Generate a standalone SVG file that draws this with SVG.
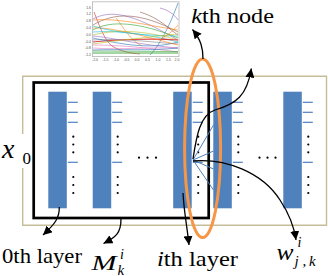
<svg xmlns="http://www.w3.org/2000/svg" width="328" height="276" viewBox="0 0 328 276">
<defs>
<marker id="ah" markerUnits="userSpaceOnUse" markerWidth="10" markerHeight="9" refX="9" refY="4.5" orient="auto">
<path d="M0,0 L9,4.5 L0,9 z" fill="#000"/>
</marker>
<g id="col">
<rect fill="#4F81BD" x="0" y="91.7" width="18.5" height="116.6"/>
<g stroke="#4F81BD" stroke-width="1.2">
<line x1="19.5" y1="102.3" x2="29.5" y2="102.3"/>
<line x1="19.5" y1="112.3" x2="29.5" y2="112.3"/>
<line x1="19.5" y1="122.3" x2="29.5" y2="122.3"/>
<line x1="19.5" y1="162.3" x2="29.5" y2="162.3"/>
</g>
<g fill="#000">
<circle cx="25" cy="136.7" r="1.1"/>
<circle cx="25" cy="144.5" r="1.1"/>
<circle cx="25" cy="152.3" r="1.1"/>
<circle cx="25" cy="177" r="1.1"/>
<circle cx="25" cy="185" r="1.1"/>
<circle cx="25" cy="193" r="1.1"/>
</g>
</g>
</defs>
<rect width="328" height="276" fill="#fff"/>

<g id="frame">
<path d="M22.7,134 V76.3 H326.5 V225.3 H22.7 V168" fill="none" stroke="#C4BD97" stroke-width="1.4"/>
</g>

<g id="chart">
<rect x="92.5" y="1.8" width="86.5" height="54.8" fill="#fff" stroke="#b5b5b5" stroke-width="0.8"/>
<g fill="none" stroke-width="0.7" stroke-opacity="0.85">
<path stroke="#d62728" d="M94,12 C98,22 104,40 112,46 C122,52 130,53 140,54"/>
<path stroke="#1f77b4" d="M150,55 C160,45 170,25 178,3"/>
<path stroke="#9467bd" d="M93,19 C110,10 130,12 178,40"/>
<path stroke="#8c564b" d="M93,25 C115,12 140,12 178,32"/>
<path stroke="#ff7f0e" d="M93,20 C120,18 145,25 178,30"/>
<path stroke="#ff7f0e" d="M116,18 C124,28 130,40 142,46"/>
<path stroke="#2ca02c" d="M93,30 C110,20 140,22 178,38"/>
<path stroke="#17becf" d="M93,32 C120,30 150,35 178,42"/>
<path stroke="#bcbd22" d="M93,35 C120,28 150,32 178,40"/>
<path stroke="#e377c2" d="M93,45 C120,45 150,48 178,52"/>
<path stroke="#7f7f7f" d="M93,40 C120,38 150,42 178,44"/>
<path stroke="#2ca02c" stroke-width="1" d="M93,53 L178,53"/>
<path stroke="#2ca02c" d="M93,51 L178,51.5"/>
<path stroke="#d62728" stroke-width="1.2" d="M93,42 C110,40 150,38 178,40"/>
<path stroke="#1f77b4" d="M93,38 C120,44 150,50 178,42"/>
<path stroke="#9467bd" d="M93,36 C115,38 140,45 178,48"/>
<path stroke="#ff7f0e" d="M93,28 C110,27 140,35 178,45"/>
<path stroke="#8c564b" d="M140,12 C160,18 170,30 178,35"/>
<path stroke="#e377c2" d="M93,48 C120,50 150,47 178,48"/>
<path stroke="#17becf" d="M93,26 C115,33 150,36 178,36"/>
<path stroke="#bcbd22" d="M93,44 C120,40 160,36 178,34"/>
<path stroke="#ff7f0e" d="M160,40 C168,35 174,30 178,25"/>
<path stroke="#1f77b4" d="M93,50 C120,49 150,51 178,48"/>
<path stroke="#9467bd" d="M160,8 C168,10 174,14 178,20"/>
</g>
<g font-size="3.5" fill="#555" text-anchor="end">
<text x="91" y="8.5" font-family="Liberation Sans">1.6</text><text x="91" y="15.3" font-family="Liberation Sans">1.2</text><text x="91" y="22.1" font-family="Liberation Sans">0.8</text><text x="91" y="28.9" font-family="Liberation Sans">0.4</text>
<text x="91" y="35.7" font-family="Liberation Sans">0.0</text><text x="91" y="42.5" font-family="Liberation Sans">-0.4</text><text x="91" y="49.3" font-family="Liberation Sans">-0.8</text><text x="91" y="56.1" font-family="Liberation Sans">-1.2</text>
</g>
<g font-size="3.5" fill="#555" text-anchor="middle">
<text x="95" y="61" font-family="Liberation Sans">-2.0</text><text x="105.5" y="61" font-family="Liberation Sans">-1.5</text><text x="116" y="61" font-family="Liberation Sans">-1.0</text><text x="126.5" y="61" font-family="Liberation Sans">-0.5</text>
<text x="137" y="61" font-family="Liberation Sans">0.0</text><text x="147.5" y="61" font-family="Liberation Sans">0.5</text><text x="158" y="61" font-family="Liberation Sans">1.0</text><text x="168.5" y="61" font-family="Liberation Sans">1.5</text><text x="177" y="61" font-family="Liberation Sans">2.0</text>
</g>
</g>

<g id="layer0"><use href="#col" x="48.3"/></g>
<g id="layer1"><use href="#col" x="92.7"/></g>
<g id="hdots1" fill="#000"><circle cx="139" cy="157.7" r="1.1"/><circle cx="147.5" cy="157.7" r="1.1"/><circle cx="156" cy="157.7" r="1.1"/></g>
<g id="layeri"><use href="#col" x="173.2"/></g>
<g id="layeri1"><use href="#col" x="213.3"/></g>
<g id="hdots2" fill="#000"><circle cx="259.5" cy="157.7" r="1.1"/><circle cx="267.5" cy="157.7" r="1.1"/><circle cx="275.5" cy="157.7" r="1.1"/></g>
<g id="layerN"><use href="#col" x="283.3"/></g>

<g id="module">
<rect x="33.7" y="82.5" width="175" height="135.5" fill="none" stroke="#000" stroke-width="2.7"/>
</g>

<g id="kthnode">
<ellipse cx="202.6" cy="148.3" rx="18" ry="89.3" fill="none" stroke="#F79646" stroke-width="3"/>
</g>

<g id="weights" stroke="#4F81BD" stroke-width="1">
<line x1="193" y1="160" x2="213.5" y2="125"/>
<line x1="193" y1="160" x2="213.5" y2="151"/>
<line x1="193" y1="160" x2="213.5" y2="169"/>
<line x1="193" y1="160" x2="213.5" y2="190"/>
</g>

<g id="connectors" fill="none" stroke="#000" stroke-width="1.3">
<path marker-end="url(#ah)" d="M193,159 C196,140 199,115 215,110 C236,104 247,96 251.3,68.5"/>
<path marker-end="url(#ah)" d="M193,161 C225,158 262,172 280,200 C290,215 294,226 296,240"/>
<path marker-end="url(#ah)" d="M203,59 C203,48 201,40 192.5,29.5"/>
<path marker-end="url(#ah)" d="M59.3,207 C59.5,218 55,224 43,235"/>
<path marker-end="url(#ah)" d="M121,219 C121,233 116,237 103.5,243.5"/>
<path marker-end="url(#ah)" d="M183,193 C184,212 187,226 189,245"/>
</g>

<g id="labels" fill="#000">
<text x="2" y="158" font-size="28" font-style="italic" font-family="Liberation Serif">x</text>
<text x="22.5" y="163.5" font-size="17" font-family="Liberation Serif">0</text>
<text x="191.3" y="22.7" font-size="22" font-family="Liberation Serif" textLength="82.7" lengthAdjust="spacingAndGlyphs"><tspan font-style="italic">k</tspan>th node</text>
<text x="2" y="262.5" font-size="22" font-family="Liberation Serif" textLength="80" lengthAdjust="spacingAndGlyphs">0th layer</text>
<text x="157" y="265.5" font-size="22" font-family="Liberation Serif" textLength="81" lengthAdjust="spacingAndGlyphs"><tspan font-style="italic">i</tspan>th layer</text>
<text x="91.5" y="270" font-size="22" font-style="italic" font-family="Liberation Serif" textLength="25" lengthAdjust="spacingAndGlyphs">M</text>
<text x="120" y="259" font-size="14" font-style="italic" font-family="Liberation Serif">i</text>
<text x="117.5" y="274.5" font-size="15" font-style="italic" font-family="Liberation Serif">k</text>
<text x="276.5" y="260" font-size="24" font-style="italic" font-family="Liberation Serif" textLength="17" lengthAdjust="spacingAndGlyphs">w</text>
<text x="297.5" y="246.7" font-size="14" font-style="italic" font-family="Liberation Serif">i</text>
<text font-size="15" y="265.7" font-style="italic" font-family="Liberation Serif"><tspan x="294.5">j</tspan><tspan x="302.5">,</tspan><tspan x="309">k</tspan></text>
</g>
</svg>
